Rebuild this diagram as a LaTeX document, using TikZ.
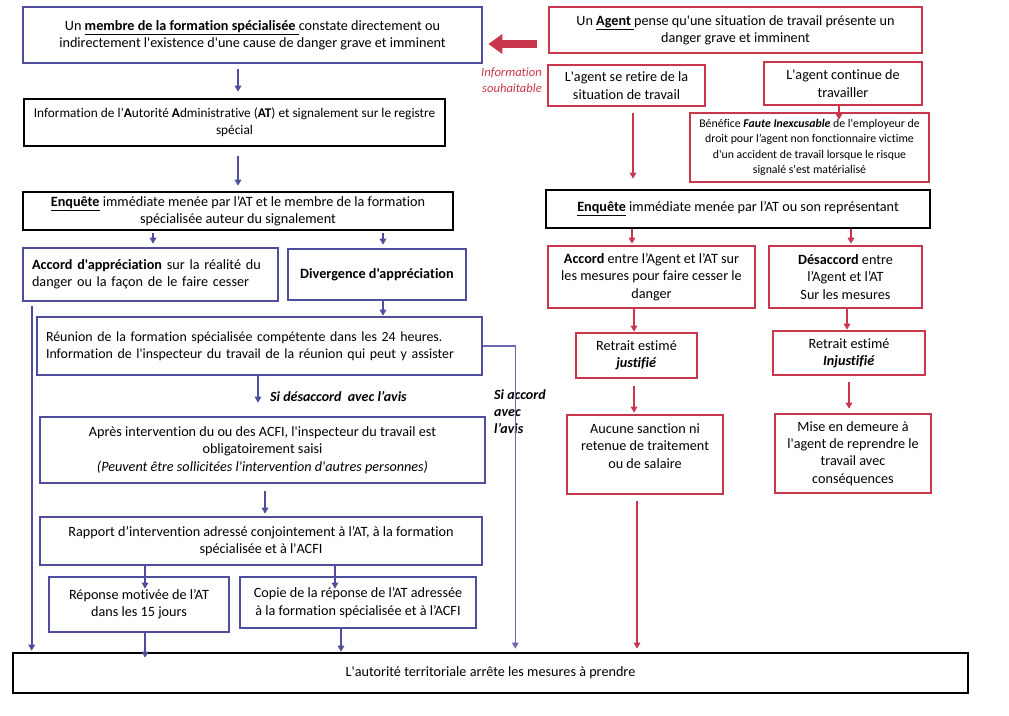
\documentclass[tikz,border=0pt]{standalone}
\usepackage{fontspec}
\setmainfont{Carlito}[Ligatures={TeXOff,NoCommon}]
\usetikzlibrary{arrows.meta}
\definecolor{bleu}{RGB}{79,77,158}
\definecolor{rouge}{RGB}{200,55,75}
\tikzset{
  box/.style={draw, line width=2.6pt, inner sep=0pt, align=center, font=\fontsize{14.2}{17.3}\selectfont},
  bluebox/.style={box, draw=bleu},
  redbox/.style={box, draw=rouge},
  blackbox/.style={box, draw=black},
  barrow/.style={draw=bleu, line width=1.8pt, -{Triangle[length=6pt,width=6.5pt]}},
  rarrow/.style={draw=rouge, line width=1.8pt, -{Triangle[length=6pt,width=6.5pt]}},
  lbl/.style={font=\fontsize{14}{17}\selectfont\bfseries\itshape, inner sep=0pt, align=left}
}
\begin{document}
\begin{tikzpicture}[x=1pt,y=-1pt]
\useasboundingbox (0,0) rectangle (1009,715);
% left column
\node[bluebox, minimum width=459pt, minimum height=56pt] (B1) at (252.5,35)
 {Un \underline{\textbf{membre de la formation spécialisée }}constate directement ou\\indirectement l'existence d'une cause de danger grave et imminent};
\node[blackbox, minimum width=421pt, minimum height=47pt, font=\fontsize{13.3}{17.3}\selectfont] (B2) at (234.5,122.5)
 {Information de l’\textbf{A}utorité \textbf{A}dministrative (\textbf{AT}) et signalement sur le registre\\spécial};
\node[blackbox, minimum width=430pt, minimum height=38pt] (B3) at (238,211)
 {\underline{\textbf{Enquête}} immédiate menée par l’AT et le membre de la formation\\spécialisée auteur du signalement};
\node[bluebox, minimum width=255pt, minimum height=53pt, text width=237pt, align=left] (B4) at (150.5,274.5)
 {\textbf{Accord d'appréciation} sur la réalité du\\danger ou la façon de le faire cesser};
\node[bluebox, minimum width=178pt, minimum height=51pt] (B5) at (377,274.5)
 {\textbf{Divergence d'appréciation}};
\node[bluebox, minimum width=445pt, minimum height=58pt, text width=427pt, align=left, font=\fontsize{13.9}{17.3}\selectfont] (B6) at (259.5,346)
 {Réunion de la formation spécialisée compétente dans les 24 heures.\\Information de l'inspecteur du travail de la réunion qui peut y assister};
\node[bluebox, minimum width=445pt, minimum height=66pt] (B7) at (262.5,450)
 {Après intervention du ou des ACFI, l'inspecteur du travail est\\obligatoirement saisi\\\textit{(Peuvent être sollicitées l'intervention d'autres personnes)}};
\node[bluebox, minimum width=442pt, minimum height=48pt] (B8) at (261,541)
 {Rapport d’intervention adressé conjointement à l’AT, à la formation\\spécialisée et à l'ACFI};
\node[bluebox, minimum width=180pt, minimum height=55pt] (B9) at (139,604.5)
 {Réponse motivée de l’AT\\dans les 15 jours};
\node[bluebox, minimum width=236pt, minimum height=51pt] (B10) at (358,602.5)
 {Copie de la réponse de l’AT adressée\\à la formation spécialisée et à l’ACFI};
\node[blackbox, minimum width=955pt, minimum height=40pt] (F) at (490.5,673)
 {L'autorité territoriale arrête les mesures à prendre};
% right column
\node[redbox, minimum width=373pt, minimum height=46pt] (R1) at (735.5,30)
 {Un \underline{\textbf{Agent }}pense qu'une situation de travail présente un\\danger grave et imminent};
\node[redbox, minimum width=157pt, minimum height=41pt] (R2) at (626.5,85.5)
 {L'agent se retire de la\\situation de travail};
\node[redbox, minimum width=158pt, minimum height=43pt] (R3) at (843,83.5)
 {L'agent continue de\\travailler};
\node[redbox, minimum width=239pt, minimum height=69pt, font=\fontsize{11.8}{15.3}\selectfont] (R4) at (809.5,147.5)
 {Bénéfice \textbf{\textit{Faute Inexcusable}} de l'employeur de\\droit pour l’agent non fonctionnaire victime\\d'un accident de travail lorsque le risque\\signalé s'est matérialisé};
\node[blackbox, minimum width=384pt, minimum height=38pt] (R5) at (738,209)
 {\underline{\textbf{Enquête}} immédiate menée par l’AT ou son représentant};
\node[redbox, minimum width=207pt, minimum height=62pt] (R6) at (651.5,277)
 {\textbf{Accord} entre l’Agent et l’AT sur\\les mesures pour faire cesser le\\danger};
\node[redbox, minimum width=153pt, minimum height=62pt] (R7) at (845.5,277)
 {\textbf{Désaccord} entre\\l’Agent et l’AT\\Sur les mesures};
\node[redbox, minimum width=121pt, minimum height=45pt] (R8) at (636.5,355.5)
 {Retrait estimé\\\textbf{\textit{justifié}}};
\node[redbox, minimum width=152pt, minimum height=44pt] (R9) at (849,353)
 {Retrait estimé\\\textbf{\textit{Injustifié}}};
\node[redbox, minimum width=156pt, minimum height=79pt] (R10) at (645,454.5)
 {Aucune sanction ni\\retenue de traitement\\ou de salaire\\[-0.5pt]};
\node[redbox, minimum width=156pt, minimum height=79pt] (R11) at (853,453.5)
 {Mise en demeure à\\l'agent de reprendre le\\travail avec\\conséquences};
% labels
\node[lbl, anchor=west] (L1) at (270,397) {Si désaccord\ \ avec l’avis};
\node[lbl, anchor=north west] (L2) at (494,389) {Si accord\\avec\\l’avis};
\node[font=\fontsize{12.6}{16}\selectfont\itshape, text=rouge, align=right, inner sep=0pt, anchor=east] (L3) at (542,80) {Information\\souhaitable};
% left arrows
\draw[barrow, shorten <=5pt, shorten >=6pt] ([xshift=3.5pt]B2.north |- B1.south) -- ([xshift=3.5pt]B2.north);
\draw[barrow, shorten <=9pt, shorten >=5pt] (B3.north |- B2.south) -- (B3.north);
\draw[barrow, shorten <=2pt, shorten >=3pt] ([xshift=2.5pt]B4.north |- B3.south) -- ([xshift=2.5pt]B4.north);
\draw[barrow, shorten <=2pt, shorten >=3pt] ([xshift=6pt]B5.north |- B3.south) -- ([xshift=6pt]B5.north);
\draw[barrow] ([xshift=6pt]B5.south) -- ([xshift=6pt]B5.south |- B6.north);
\draw[barrow, shorten >=13pt] ([xshift=-1.5pt]B6.south) -- ([xshift=-1.5pt]B6.south |- B7.north);
\draw[barrow, shorten <=7pt, shorten >=2pt] ([xshift=2.5pt]B7.south) -- ([xshift=2.5pt]B7.south |- B8.north);
\draw[barrow] ([xshift=6pt]B9.north |- B8.south) -- ([xshift=6pt,yshift=-13pt]B9.north);
\draw[barrow] ([xshift=-23pt]B10.north |- B8.south) -- ([xshift=-23pt,yshift=-13pt]B10.north);
\draw[barrow] ([xshift=6pt]B9.south) -- ([xshift=6pt,yshift=-6pt]B9.south |- F.north);
\draw[barrow] ([xshift=-17pt]B10.south) -- ([xshift=-17pt]B10.south |- F.north);
\draw[barrow, shorten >=1pt] ([xshift=10pt,yshift=-4pt]B4.south west) -- ([xshift=10pt]B4.south west |- F.north);
\coordinate (c1) at ([xshift=32pt]B6.east);
\draw[barrow, draw=bleu!85, line width=1.4pt, shorten >=3pt] (B6.east) -- (c1) -- (c1 |- F.north);
% right arrows
\coordinate (ra) at ([xshift=-11pt,yshift=-14pt]R1.west);
\draw[draw=rouge, line width=8pt, -{Triangle[length=14pt,width=19pt]}, shorten >=5pt] (ra) -- (ra -| B1.east);
\draw[rarrow, shorten <=6pt, shorten >=10pt] ([xshift=6.5pt]R2.south) -- ([xshift=6.5pt]R2.south |- R5.north);
\draw[rarrow] ([xshift=-4pt]R3.south) -- ([xshift=-4pt,yshift=-8pt]R3.south |- R4.north);
\draw[rarrow, shorten >=1pt] ([xshift=-19.5pt]R6.north |- R5.south) -- ([xshift=-19.5pt]R6.north);
\draw[rarrow, shorten >=1pt] ([xshift=5.5pt]R7.north |- R5.south) -- ([xshift=5.5pt]R7.north);
\draw[rarrow] ([xshift=-2.5pt]R8.north |- R6.south) -- ([xshift=-2.5pt]R8.north);
\draw[rarrow] ([xshift=-2pt]R9.north |- R7.south) -- ([xshift=-2pt]R9.north);
\draw[rarrow, shorten <=7pt, shorten >=1pt] ([xshift=-2.5pt]R8.south) -- ([xshift=-2.5pt]R8.south |- R10.north);
\draw[rarrow, shorten <=6pt, shorten >=4pt] (R9.south) -- (R9.south |- R11.north);
\draw[rarrow, line width=1.4pt, shorten <=6pt, shorten >=3pt] ([xshift=-8pt]R10.south) -- ([xshift=-8pt]R10.south |- F.north);
\end{tikzpicture}
\end{document}
